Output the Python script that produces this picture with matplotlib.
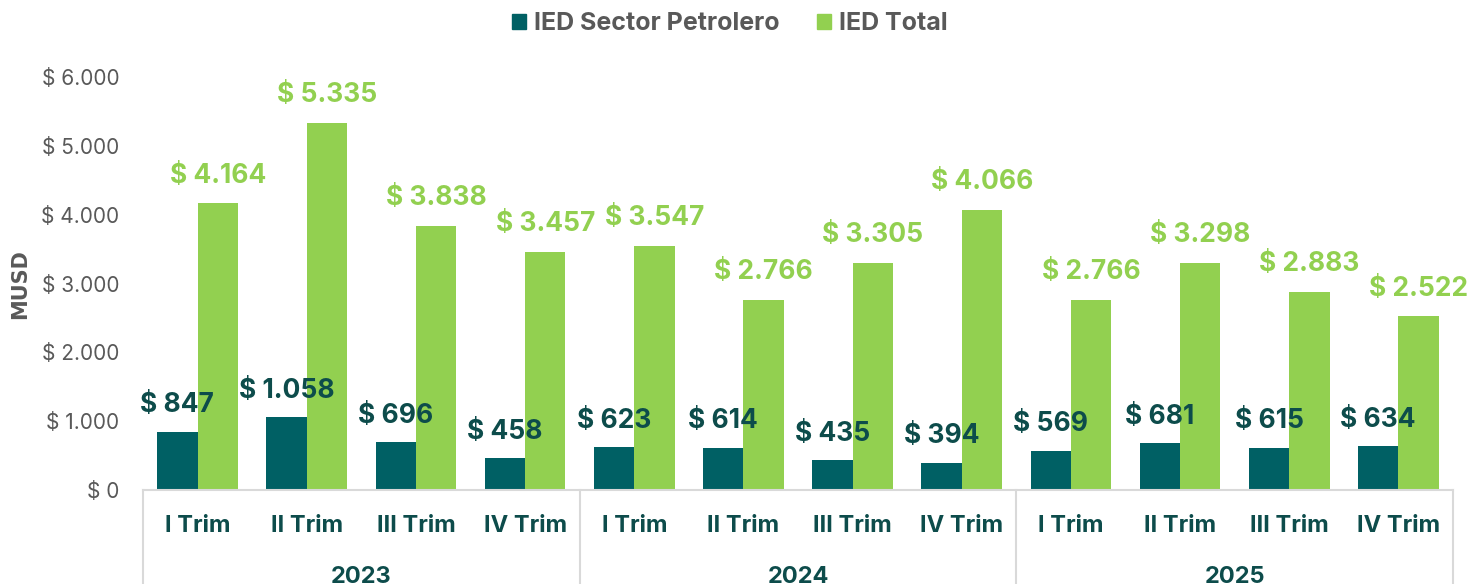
import matplotlib
matplotlib.use("Agg")
import matplotlib.pyplot as plt
from matplotlib.patches import Patch
from matplotlib.transforms import blended_transform_factory

plt.rcParams['font.family'] = ['Inter', 'DejaVu Sans']

trimestres = ["I Trim", "II Trim", "III Trim", "IV Trim"] * 3
anios = ["2023", "2024", "2025"]
ied_petrolero = [847, 1058, 696, 458, 623, 614, 435, 394, 569, 681, 615, 634]
ied_total = [4164, 5335, 3838, 3457, 3547, 2766, 3305, 4066, 2766, 3298, 2883, 2522]
series = ["IED Sector Petrolero", "IED Total"]

TEAL = "#006064"
GREEN = "#92D050"
DARK = "#0D4C4B"
GREY = "#595959"
LINE = "#D9D9D9"

W, H = 1484, 584
fig = plt.figure(figsize=(W / 100, H / 100), dpi=100)
ax = fig.add_axes([143 / W, 94 / H, 1310 / W, 413 / H])

def fmt(v):
    return "$ " + f"{v:,}".replace(",", ".")

n = len(trimestres)
x = list(range(n))
w = 0.37
ax.bar([i - w / 2 for i in x], ied_petrolero, w, color=TEAL)
ax.bar([i + w / 2 for i in x], ied_total, w, color=GREEN)

for i in x:
    ax.annotate(fmt(ied_petrolero[i]), (i - w / 2, ied_petrolero[i]), xytext=(0, 19),
                textcoords="offset points", ha="center", va="center",
                fontsize=19, fontweight="bold", color=DARK)
    ax.annotate(fmt(ied_total[i]), (i + w / 2, ied_total[i]), xytext=(0, 20),
                textcoords="offset points", ha="center", va="center",
                fontsize=19, fontweight="bold", color=GREEN)

ax.set_xlim(-0.5, n - 0.5)
ax.set_ylim(0, 6000)
ax.set_yticks(range(0, 6001, 1000))
ax.set_yticklabels([fmt(v) for v in range(0, 6001, 1000)], fontsize=15, color=GREY)
ax.tick_params(axis="y", length=0, pad=17)
ax.set_xticks([])
for s in ["top", "right", "left"]:
    ax.spines[s].set_visible(False)
ax.spines["bottom"].set_color(LINE)
ax.spines["bottom"].set_linewidth(1.5)

# category axis with two levels
tr = blended_transform_factory(ax.transData, ax.transAxes)
bottom = -94 / 413
for i, t in enumerate(trimestres):
    ax.text(i, -36 / 413, t, transform=tr, ha="center", va="center",
            fontsize=17, fontweight="bold", color=DARK)
for k, a in enumerate(anios):
    ax.text(4 * k + 1.5, -87 / 413, a, transform=tr, ha="center", va="center",
            fontsize=17, fontweight="bold", color=DARK)
for b in [-0.5, 3.5, 7.5, 11.5]:
    ax.plot([b, b], [0, bottom], transform=tr, color=LINE, lw=1.5, clip_on=False)

fig.text(20 / W, 1 - 284 / H, "MUSD", rotation=90, ha="center", va="center",
         fontsize=15, fontweight="bold", color=GREY, family=["DejaVu Sans"])

handles = [Patch(color=TEAL), Patch(color=GREEN)]
fig.legend(handles, series, loc="center", bbox_to_anchor=(730 / W, 1 - 24 / H), ncol=2,
           frameon=False, handlelength=0.56, handleheight=0.56, handletextpad=0.32,
           columnspacing=1.48, prop={"size": 18, "weight": "bold"}, labelcolor=GREY)

fig.savefig("out.png", dpi=100)
